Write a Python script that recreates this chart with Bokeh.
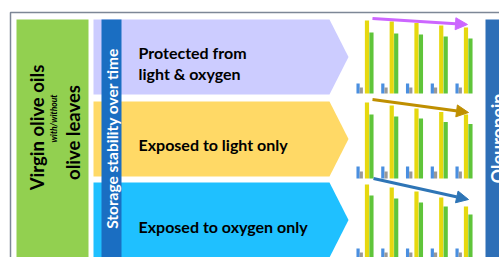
from math import pi
from bokeh.plotting import figure
from bokeh.models import Range1d, Label, Arrow, NormalHead, ColumnDataSource
from bokeh.embed import file_html
from bokeh.resources import INLINE

# ---------------- data (relative bar heights, 5 storage times per condition) ----------------
times = [1, 2, 3, 4, 5]
conditions = ["Protected from light & oxygen", "Exposed to light only", "Exposed to oxygen only"]
yellow_vals = {
    "Protected from light & oxygen": [73, 72, 70.5, 68, 66],
    "Exposed to light only": [76, 73, 70, 66.5, 64],
    "Exposed to oxygen only": [76, 73, 69, 63, 54],
}
green_vals = {
    "Protected from light & oxygen": [61, 60, 59, 57, 55],
    "Exposed to light only": [64, 62, 60, 56.5, 54.5],
    "Exposed to oxygen only": [65, 62, 58, 54, 46],
}
blue_vals = {
    "Protected from light & oxygen": [10, 10, 10, 10, 10],
    "Exposed to light only": [12, 12, 12, 12, 12],
    "Exposed to oxygen only": [12, 12, 12, 12, 12],
}
gray_vals = {
    "Protected from light & oxygen": [6, 6, 6, 6, 6],
    "Exposed to light only": [7, 7, 7, 7, 7],
    "Exposed to oxygen only": [8, 8, 8, 8, 8],
}

# ---------------- layout (reference pixel space) ----------------
X0, X1, Y0, Y1 = 0, 499, 0, 257
p = figure(width=499, height=257, x_range=Range1d(X0, X1), y_range=Range1d(Y1, Y0),
           output_backend="svg", toolbar_location=None, min_border=0,
           x_axis_location=None, y_axis_location=None)
p.grid.visible = False
p.outline_line_color = None
p.background_fill_color = "white"
p.border_fill_color = "white"

BOLD = "Lato"

# frame lines
p.line([10, 10, 499], [260, 12, 12], line_color="#7d8796", line_width=1.5)

# left green box
p.quad(left=16, right=88, top=19, bottom=262, fill_color="#92d050", line_color=None)

# chevron bands
bands = [("#ccccff", 19, 94), ("#ffd966", 101, 176), ("#1fc0ff", 182, 257)]
for col, t, b in bands:
    m = (t + b) / 2
    p.patch([93, 329, 348, 329, 93], [t, t, m, b, b], fill_color=col, line_color=None)

# dark blue vertical bar
p.quad(left=101, right=121, top=19, bottom=262, fill_color="#1a6ec2", line_color=None)
# right blue box
p.quad(left=485, right=520, top=19, bottom=262, fill_color="#2e6fb7", line_color=None)

# texts
p.add_layout(Label(x=36, y=127, text="Virgin olive oils", angle=pi / 2, text_align="center",
                   text_baseline="middle", text_font=BOLD, text_font_style="bold",
                   text_font_size="18.5px", text_color="black"))
p.add_layout(Label(x=53, y=118, text="with/without", angle=pi / 2, text_align="center",
                   text_baseline="middle", text_font=BOLD, text_font_style="bold italic",
                   text_font_size="8.5px", text_color="black"))
p.add_layout(Label(x=72, y=132, text="olive leaves", angle=pi / 2, text_align="center",
                   text_baseline="middle", text_font=BOLD, text_font_style="bold",
                   text_font_size="18.5px", text_color="black"))
p.add_layout(Label(x=111, y=138, text="Storage stability over time", angle=pi / 2,
                   text_align="center", text_baseline="middle", text_font=BOLD,
                   text_font_style="bold", text_font_size="15.5px", text_color="white"))
p.add_layout(Label(x=497, y=138, text="Oleuropein", angle=pi / 2, text_align="center",
                   text_baseline="middle", text_font=BOLD, text_font_style="bold",
                   text_font_size="18px", text_color="white"))
for txt, yb in [("Protected from", 52), ("light & oxygen", 73),
                ("Exposed to light only", 144), ("Exposed to oxygen only", 226)]:
    p.add_layout(Label(x=138, y=yb, text=txt, text_align="left", text_baseline="alphabetic",
                       text_font=BOLD, text_font_style="bold", text_font_size="16px",
                       text_color="black"))

# ---------------- bars via extra ranges ----------------
G0, GSTEP = 365, 24.75
p.extra_x_ranges = {"grp": Range1d(1 + (X0 - G0) / GSTEP, 1 + (X1 - G0) / GSTEP)}
baselines = [93, 178, 260]
specs = [(blue_vals, -0.30, 0.13, "#4a8fe0"), (gray_vals, -0.17, 0.13, "#999999"),
         (yellow_vals, 0.06, 0.17, "#e6d80f"), (green_vals, 0.24, 0.17, "#5fc53a")]
for i, cond in enumerate(conditions):
    b = baselines[i]
    name = f"panel{i}"
    p.extra_y_ranges[name] = Range1d(-(Y1 - b), b - Y0)
    for vals, off, w, col in specs:
        src = ColumnDataSource(dict(x=[t + off for t in times], top=vals[cond]))
        p.vbar(x="x", top="top", bottom=0, width=w, source=src, fill_color=col,
               line_color=None, x_range_name="grp", y_range_name=name)

# trend arrows
arrows = [("#cc66ff", 372, 18, 467, 24), ("#bf8f00", 372, 99, 468, 112), ("#2e75b6", 373, 178, 468, 199)]
for col, xs, ys, xe, ye in arrows:
    p.add_layout(Arrow(x_start=xs, y_start=ys, x_end=xe, y_end=ye, line_color=col, line_width=3,
                       end=NormalHead(size=12, fill_color=col, line_color=col)))

open("out.html", "w").write(file_html(p, INLINE))
